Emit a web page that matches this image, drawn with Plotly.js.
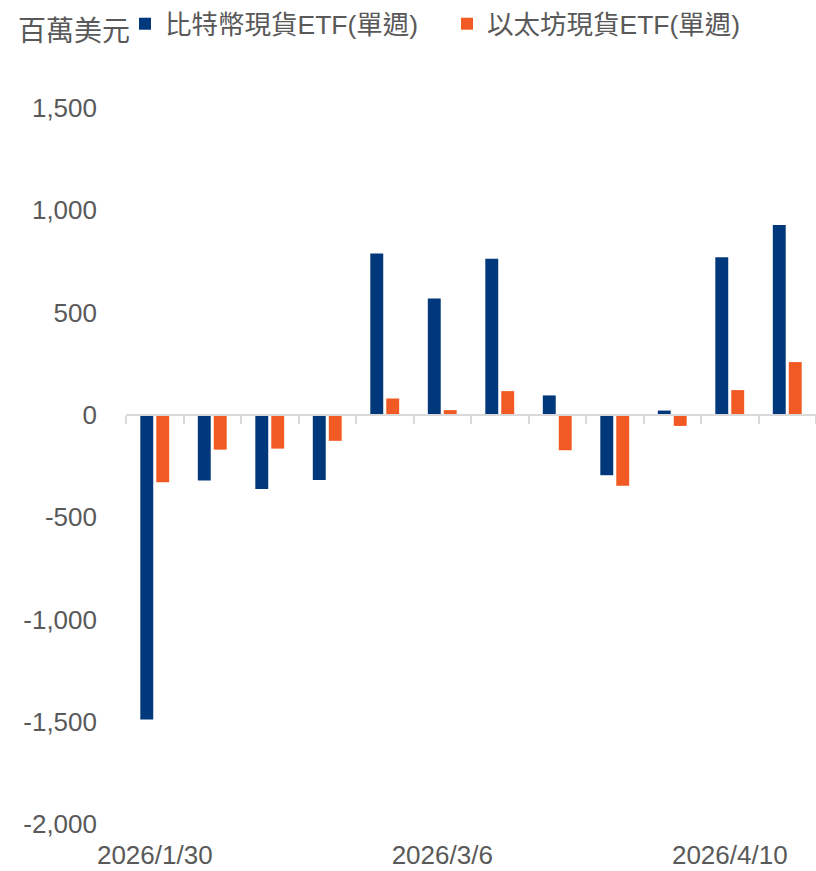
<!DOCTYPE html>
<html>
<head>
<meta charset="utf-8">
<script src="https://cdn.plot.ly/plotly-3.0.1.min.js"></script>
<style>html,body{margin:0;padding:0;background:#fff;}#chart{width:816px;height:871px;}</style>
</head>
<body>
<div id="chart"></div>
<script>
// Week-ending dates
const weeks = ["2026/1/30","2026/2/6","2026/2/13","2026/2/20","2026/2/27","2026/3/6","2026/3/13","2026/3/20","2026/3/27","2026/4/3","2026/4/10","2026/4/17"];
// Spot Bitcoin ETF weekly net flow (USD millions)
const btcFlow = [-1489, -321, -363, -319, 789, 569, 763, 95, -295, 21, 770, 928];
// Spot Ether ETF weekly net flow (USD millions)
const ethFlow = [-329, -170, -165, -127, 80, 23, 116, -173, -347, -54, 121, 258];
const btcName = "比特幣現貨ETF(單週)";
const ethName = "以太坊現貨ETF(單週)";
const unitLabel = "百萬美元";
const shownDates = ["2026/1/30","2026/3/6","2026/4/10"];
const yTicks = [-2000, -1500, -1000, -500, 0, 500, 1000, 1500];
const yTickText = yTicks.map(v => v.toLocaleString("en-US"));

const yMin = -2000, yMax = 1500;
const font = "'Liberation Sans', Arial, 'Noto Sans CJK TC', sans-serif";
const grey = "#595959";

const boundaries = weeks.map((d, i) => i - 0.5).concat([weeks.length - 0.5]);

const data = [
  {type: "bar", name: btcName, x: weeks, y: btcFlow, marker: {color: "#00387B"}, hoverinfo: "x+y"},
  {type: "bar", name: ethName, x: weeks, y: ethFlow, marker: {color: "#F15A22"}, hoverinfo: "x+y"},
  {type: "scatter", mode: "markers", x: boundaries, y: boundaries.map(() => null), xaxis: "x2", yaxis: "y",
   showlegend: false, hoverinfo: "skip", marker: {opacity: 0}}
];

const layout = {
  width: 816, height: 871,
  margin: {l: 126, r: 0, t: 108, b: 47},
  paper_bgcolor: "#fff", plot_bgcolor: "#fff",
  font: {family: font, color: grey, size: 26},
  barmode: "group",
  bargap: 0.445,
  bargroupgap: 0.19,
  showlegend: true,
  legend: {
    orientation: "h", xref: "container", yref: "container",
    x: 125 / 816, y: 1, xanchor: "left", yanchor: "top",
    font: {family: font, size: 26.5, color: grey},
    entrywidth: 277, entrywidthmode: "pixels",
    itemclick: false, itemdoubleclick: false, traceorder: "normal"
  },
  xaxis: {
    type: "category", categoryarray: weeks, categoryorder: "array",
    tickmode: "array", tickvals: shownDates, ticktext: shownDates,
    ticks: "", showline: false, showgrid: false, zeroline: false,
    ticklabelstandoff: 13,
    tickfont: {family: font, size: 26, color: grey}
  },
  xaxis2: {
    overlaying: "x", anchor: "free", position: (0 - yMin) / (yMax - yMin),
    type: "linear", range: [-0.5, weeks.length - 0.5],
    tickmode: "array", tickvals: boundaries, showticklabels: false,
    ticks: "outside", ticklen: 8, tickwidth: 2, tickcolor: "#D9D9D9",
    showline: true, linecolor: "#D9D9D9", linewidth: 2,
    showgrid: false, zeroline: false, side: "bottom"
  },
  yaxis: {
    range: [yMin, yMax], tickmode: "array", tickvals: yTicks, ticktext: yTickText,
    showgrid: false, zeroline: false, showline: false,
    ticks: "", ticklabelstandoff: 28,
    tickfont: {family: font, size: 26, color: grey}
  },
  annotations: [{
    text: unitLabel, xref: "paper", yref: "paper",
    x: (16 - 126) / 690, y: (824 - 32) / 716, xanchor: "left", yanchor: "middle",
    showarrow: false, font: {family: font, size: 28, color: grey}
  }]
};

Plotly.newPlot("chart", data, layout, {displayModeBar: false, staticPlot: true});
</script>
</body>
</html>
